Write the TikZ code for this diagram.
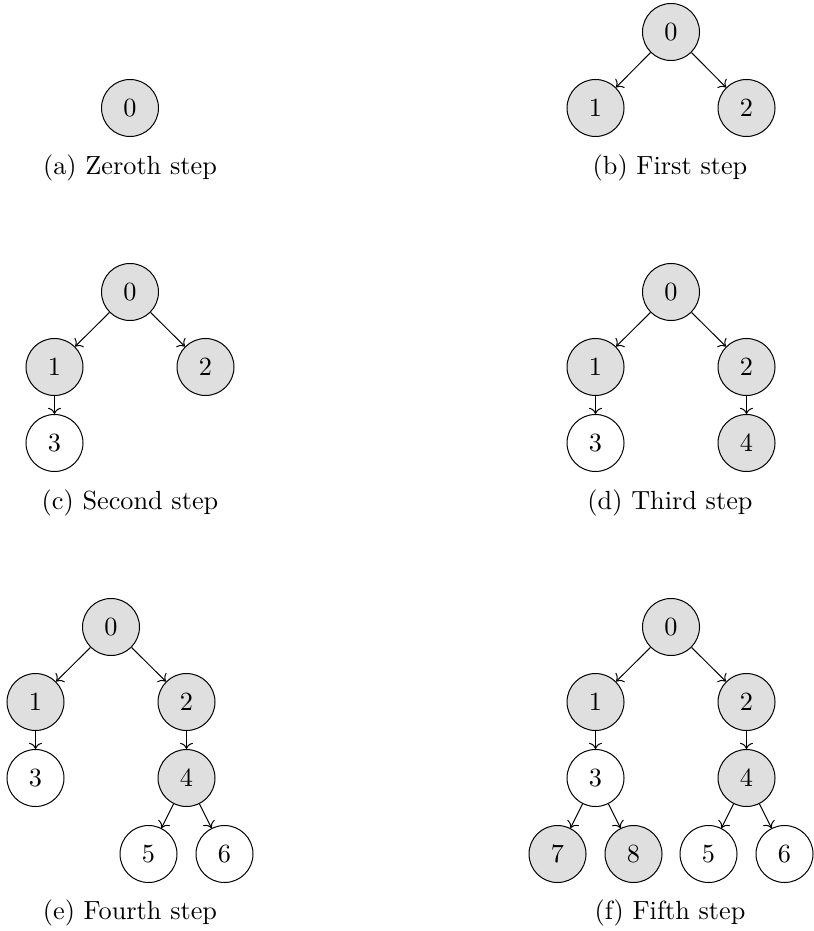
\documentclass[tikz,border=0pt]{standalone}
\usepackage{tikz}
\usetikzlibrary{arrows.meta}

\begin{document}
\begin{tikzpicture}[x = 0.4pt, y = -0.4pt, font = \fontsize{10.5}{12.6}\selectfont,
    visitato/.style = {circle, draw, fill = gray!25, minimum size = 22.8pt, inner sep = 0pt},
    nuovo/.style = {circle, draw, fill = white, minimum size = 22.8pt, inner sep = 0pt},
    didascalia/.style = {anchor = base, inner sep = 0pt}]
    % Parametri
    \pgfmathsetmacro{\sx}{130}
    \pgfmathsetmacro{\dx}{671}
    \pgfmathsetmacro{\passo}{75.5}
    \pgfmathsetmacro{\mezzo}{38}
    \useasboundingbox (0,0) rectangle (813,931);
    % (a)
    \node[visitato] (a0) at (\sx,108) {0};
    \node[didascalia] (capa) at (\sx,175) {(a) Zeroth step};
    % (b)
    \node[visitato] (b0) at (\dx,32) {0};
    \node[visitato] (b1) at ({\dx-\passo},108) {1};
    \node[visitato] (b2) at ({\dx+\passo},108) {2};
    \draw[->] (b0) -- (b1);
    \draw[->] (b0) -- (b2);
    \node[didascalia] (capb) at (\dx-1,175) {(b) First step};
    % (c)
    \node[visitato] (c0) at (\sx,292) {0};
    \node[visitato] (c1) at ({\sx-\passo},367) {1};
    \node[visitato] (c2) at ({\sx+\passo},367) {2};
    \node[nuovo] (c3) at ({\sx-\passo},443) {3};
    \draw[->] (c0) -- (c1);
    \draw[->] (c0) -- (c2);
    \draw[->] (c1) -- (c3);
    \node[didascalia] (capc) at (\sx,509) {(c) Second step};
    % (d)
    \node[visitato] (d0) at (\dx,292) {0};
    \node[visitato] (d1) at ({\dx-\passo},367) {1};
    \node[visitato] (d2) at ({\dx+\passo},367) {2};
    \node[nuovo] (d3) at ({\dx-\passo},443) {3};
    \node[visitato] (d4) at ({\dx+\passo},443) {4};
    \draw[->] (d0) -- (d1);
    \draw[->] (d0) -- (d2);
    \draw[->] (d1) -- (d3);
    \draw[->] (d2) -- (d4);
    \node[didascalia] (capd) at (\dx-1,509) {(d) Third step};
    % (e)
    \node[visitato] (e0) at (111,627) {0};
    \node[visitato] (e1) at ({111-\passo},702) {1};
    \node[visitato] (e2) at ({111+\passo},702) {2};
    \node[nuovo] (e3) at ({111-\passo},778) {3};
    \node[visitato] (e4) at ({111+\passo},778) {4};
    \node[nuovo] (e5) at ({111+\passo-\mezzo},854) {5};
    \node[nuovo] (e6) at ({111+\passo+\mezzo},854) {6};
    \draw[->] (e0) -- (e1);
    \draw[->] (e0) -- (e2);
    \draw[->] (e1) -- (e3);
    \draw[->] (e2) -- (e4);
    \draw[->] (e4) -- (e5);
    \draw[->] (e4) -- (e6);
    \node[didascalia] (cape) at (\sx,919) {(e) Fourth step};
    % (f)
    \node[visitato] (f0) at (\dx,627) {0};
    \node[visitato] (f1) at ({\dx-\passo},702) {1};
    \node[visitato] (f2) at ({\dx+\passo},702) {2};
    \node[nuovo] (f3) at ({\dx-\passo},778) {3};
    \node[visitato] (f4) at ({\dx+\passo},778) {4};
    \node[visitato] (f7) at ({\dx-\passo-\mezzo},854) {7};
    \node[visitato] (f8) at ({\dx-\passo+\mezzo},854) {8};
    \node[nuovo] (f5) at ({\dx+\passo-\mezzo},854) {5};
    \node[nuovo] (f6) at ({\dx+\passo+\mezzo},854) {6};
    \draw[->] (f0) -- (f1);
    \draw[->] (f0) -- (f2);
    \draw[->] (f1) -- (f3);
    \draw[->] (f2) -- (f4);
    \draw[->] (f3) -- (f7);
    \draw[->] (f3) -- (f8);
    \draw[->] (f4) -- (f5);
    \draw[->] (f4) -- (f6);
    \node[didascalia] (capf) at (\dx-1,919) {(f) Fifth step};
\end{tikzpicture}
\end{document}
